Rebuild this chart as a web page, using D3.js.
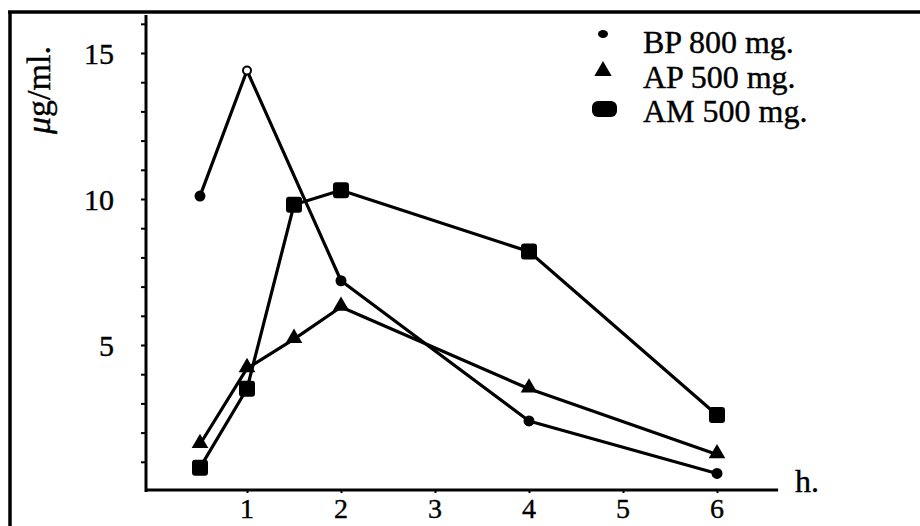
<!DOCTYPE html>
<html><head><meta charset="utf-8">
<script src="https://cdn.jsdelivr.net/npm/d3@7"></script>
<style>body{margin:0;background:#fff}svg{display:block}text{font-family:"Liberation Serif","Times New Roman",serif;fill:#000;stroke:#000;stroke-width:0.4}</style>
</head><body>
<script>
const hours = [0.5, 1, 1.5, 2, 4, 6];
const bpHours = [0.5, 1, 2, 4, 6];
const bpValues = [10.1, 14.4, 7.2, 2.4, 0.6];
const apValues = [1.6, 4.2, 5.2, 6.3, 3.5, 1.25];
const amValues = [0.8, 3.5, 9.8, 10.3, 8.2, 2.6];
const xTicks = [1, 2, 3, 4, 5, 6];
const yMinorTicks = d3.range(1, 17);
const yLabels = [5, 10, 15];
const legendLabels = ["BP 800 mg.", "AP 500 mg.", "AM 500 mg."];

const W = 920, H = 526;
const svg = d3.select("body").append("svg").attr("width", W).attr("height", H);

const x = d3.scaleLinear().domain([0, 6]).range([153, 717]);
const y = d3.scaleLinear().domain([0, 15]).range([491, 53]);

// frame
svg.append("line").attr("x1", 8).attr("x2", W).attr("y1", 12).attr("y2", 12).attr("stroke", "#000").attr("stroke-width", 3.5);
svg.append("line").attr("x1", 10).attr("x2", 10).attr("y1", 11).attr("y2", H).attr("stroke", "#000").attr("stroke-width", 3.5);

// y axis
const yAxis = d3.axisLeft(y).tickValues(yMinorTicks).tickSize(5).tickFormat("");
const gy = svg.append("g").attr("transform", "translate(146,0)").call(yAxis);
gy.select(".domain").remove();
gy.selectAll(".tick line").attr("stroke-width", 2);
svg.append("line").attr("x1", 146).attr("x2", 146).attr("y1", y(16.3)).attr("y2", y(0) + 1).attr("stroke", "#000").attr("stroke-width", 3);
svg.selectAll(".ylab").data(yLabels).enter().append("text")
  .attr("x", 114).attr("y", d => y(d)).attr("dy", "0.35em")
  .attr("text-anchor", "end").attr("font-size", 30).text(d => d);

// x axis
const xAxis = d3.axisBottom(x).tickValues(xTicks).tickSize(3).tickFormat("");
const gx = svg.append("g").attr("transform", `translate(0,${y(0) - 1})`).call(xAxis);
gx.select(".domain").remove();
gx.selectAll(".tick line").attr("stroke-width", 2);
svg.append("line").attr("x1", 145).attr("x2", x(6.65)).attr("y1", y(0) - 1).attr("y2", y(0) - 1).attr("stroke", "#000").attr("stroke-width", 3);
svg.selectAll(".xlab").data(xTicks).enter().append("text")
  .attr("x", d => x(d)).attr("y", 518)
  .attr("text-anchor", "middle").attr("font-size", 28).text(d => d);

svg.append("text").attr("x", 795).attr("y", 492).attr("font-size", 32).text("h.");

// y label
const yl = svg.append("text").attr("transform", "translate(50,90) rotate(-90)")
  .attr("text-anchor", "middle").attr("font-size", 34);
yl.append("tspan").attr("font-style", "italic").text("\u03BC");
yl.append("tspan").text("g/ml.");

// lines
const line = d3.line().x(d => x(d[0])).y(d => y(d[1]));
const bp = bpHours.map((h, i) => [h, bpValues[i]]);
const ap = hours.map((h, i) => [h, apValues[i]]);
const am = hours.map((h, i) => [h, amValues[i]]);
[bp, ap, am].forEach(s => svg.append("path").datum(s).attr("d", line)
  .attr("fill", "none").attr("stroke", "#000").attr("stroke-width", 3.2).attr("stroke-linejoin", "round"));

// markers
const tri = d3.symbol().type(d3.symbolTriangle).size(120);
svg.selectAll(".ap").data(ap).enter().append("path")
  .attr("d", tri).attr("transform", d => `translate(${x(d[0])},${y(d[1]) - 1})`).attr("fill", "#000");
svg.selectAll(".am").data(am).enter().append("rect")
  .attr("x", d => x(d[0]) - 8).attr("y", d => y(d[1]) - 8).attr("width", 16).attr("height", 16)
  .attr("rx", 3).attr("fill", "#000");
svg.selectAll(".bp").data(bp).enter().append("circle")
  .attr("cx", d => x(d[0])).attr("cy", d => y(d[1])).attr("r", (d, i) => i === 1 ? 4 : 4.5)
  .attr("fill", (d, i) => i === 1 ? "#fff" : "#000").attr("stroke", "#000").attr("stroke-width", 2);

// legend
const leg = svg.append("g");
const ly = [53, 88, 122];
leg.selectAll("text").data(legendLabels).enter().append("text")
  .attr("x", 643).attr("y", (d, i) => ly[i]).attr("font-size", 32).text(d => d);
leg.append("ellipse").attr("cx", 603).attr("cy", 34).attr("rx", 5).attr("ry", 4).attr("fill", "#000");
leg.append("path").attr("d", d3.symbol().type(d3.symbolTriangle).size(130)).attr("transform", "translate(603,71)").attr("fill", "#000");
leg.append("rect").attr("x", 592).attr("y", 101).attr("width", 25).attr("height", 16).attr("rx", 6).attr("fill", "#000");
</script>
</body></html>
